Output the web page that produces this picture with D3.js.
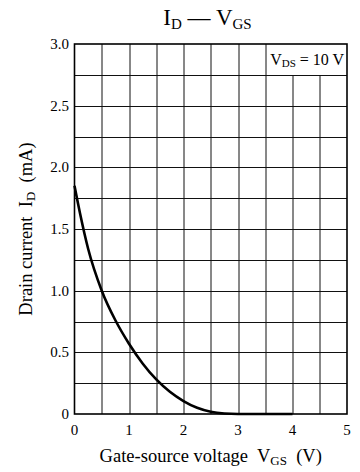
<!DOCTYPE html>
<html>
<head>
<meta charset="utf-8">
<script src="https://cdn.jsdelivr.net/npm/d3@7"></script>
<style>
  html, body { margin: 0; padding: 0; background: #fff; }
  svg { display: block; font-family: "Liberation Serif", "DejaVu Serif", serif; }
</style>
</head>
<body>
<div id="chart"></div>
<script>
// values
const vgs = [0, 0.1, 0.25, 0.5, 0.75, 1.0, 1.25, 1.5, 1.75, 2.0, 2.25, 2.5, 2.75, 3.0, 3.5, 4.0];
const id  = [1.85, 1.63, 1.34, 1.0, 0.76, 0.57, 0.41, 0.28, 0.18, 0.105, 0.05, 0.018, 0.004, 0, 0, 0];
const xTicks = [0, 1, 2, 3, 4, 5];
const yTicks = [0, 0.5, 1.0, 1.5, 2.0, 2.5, 3.0];

(function () {
  const width = 360, height = 472;
  const margin = { top: 44, right: 13, bottom: 58, left: 74.5 };
  const innerW = width - margin.left - margin.right;
  const innerH = height - margin.top - margin.bottom;

  const svg = d3.select('#chart').append('svg')
    .attr('width', width).attr('height', height);
  const g = svg.append('g').attr('transform', `translate(${margin.left},${margin.top})`);

  const x = d3.scaleLinear().domain([0, 5]).range([0, innerW]);
  const y = d3.scaleLinear().domain([0, 3]).range([innerH, 0]);

  // grid: every 0.5 V and 0.25 mA
  const gx = d3.range(0.5, 5, 0.5);
  const gy = d3.range(0.25, 3, 0.25);
  const boxX = 3.5, boxY = 2.75;   // legend box in top-right cell

  g.append('g').selectAll('line').data(gy).join('line')
    .attr('x1', 0).attr('x2', innerW)
    .attr('y1', d => Math.round(y(d)) + 0.5).attr('y2', d => Math.round(y(d)) + 0.5)
    .attr('stroke', '#111').attr('stroke-width', 1);

  g.append('g').selectAll('line').data(gx).join('line')
    .attr('x1', d => Math.round(x(d)) + 0.5).attr('x2', d => Math.round(x(d)) + 0.5)
    .attr('y1', d => d > boxX ? Math.round(y(boxY)) : 0).attr('y2', innerH)
    .attr('stroke', '#111').attr('stroke-width', 1);

  // frame
  g.append('rect')
    .attr('x', 0).attr('y', 0).attr('width', innerW).attr('height', innerH)
    .attr('fill', 'none').attr('stroke', '#000').attr('stroke-width', 1.6);

  // curve
  const line = d3.line()
    .x((d, i) => x(vgs[i]))
    .y(d => y(d))
    .curve(d3.curveMonotoneX);
  g.append('path').datum(id)
    .attr('d', line)
    .attr('fill', 'none').attr('stroke', '#000').attr('stroke-width', 2.6);

  // tick labels
  g.append('g').selectAll('text').data(xTicks).join('text')
    .attr('x', d => x(d)).attr('y', innerH + 21)
    .attr('text-anchor', 'middle').attr('font-size', 15)
    .text(d => d);

  g.append('g').selectAll('text').data(yTicks).join('text')
    .attr('x', -5.5).attr('y', d => y(d) + 5)
    .attr('text-anchor', 'end').attr('font-size', 15)
    .text(d => d === 0 ? '0' : d3.format('.1f')(d));

  // legend text in box
  const lt = g.append('text')
    .attr('x', (x(boxX) + innerW) / 2 + 1).attr('y', y(boxY) / 2 + 5.5)
    .attr('text-anchor', 'middle').attr('font-size', 16);
  lt.append('tspan').text('V');
  lt.append('tspan').attr('font-size', 11).attr('dy', 2.5).text('DS');
  lt.append('tspan').attr('dy', -2.5).text(' = 10 V');

  // title
  const t = svg.append('text')
    .attr('x', 207.5).attr('y', 25)
    .attr('text-anchor', 'middle').attr('font-size', 23);
  t.append('tspan').text('I');
  t.append('tspan').attr('font-size', 15).attr('dy', 3.5).text('D');
  t.append('tspan').attr('dy', -3.5).text(' \u2014 V');
  t.append('tspan').attr('font-size', 15).attr('dy', 3.5).text('GS');

  // x axis title
  const xt = svg.append('text')
    .attr('x', margin.left + innerW / 2).attr('y', 462)
    .attr('text-anchor', 'middle').attr('font-size', 18.5)
    .attr('xml:space', 'preserve');
  xt.append('tspan').text('Gate-source voltage  V');
  xt.append('tspan').attr('font-size', 13).attr('dy', 3).text('GS');
  xt.append('tspan').attr('dy', -3).text('  (V)');

  // y axis title
  const yt = svg.append('text')
    .attr('transform', `translate(32,${margin.top + innerH / 2}) rotate(-90)`)
    .attr('text-anchor', 'middle').attr('font-size', 18.5)
    .attr('xml:space', 'preserve');
  yt.append('tspan').text('Drain current  I');
  yt.append('tspan').attr('font-size', 13).attr('dy', 3).text('D');
  yt.append('tspan').attr('dy', -3).text('  (mA)');
})();
</script>
</body>
</html>
